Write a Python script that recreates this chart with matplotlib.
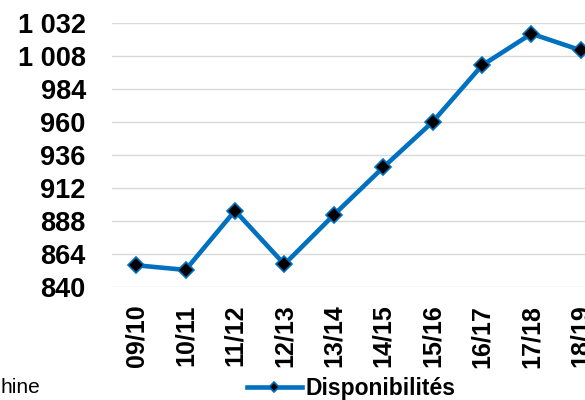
import matplotlib
matplotlib.use("Agg")
import matplotlib.pyplot as plt
from matplotlib.ticker import FuncFormatter, FixedLocator

plt.rcParams['font.family'] = ['Liberation Sans', 'DejaVu Sans']

seasons = ["09/10", "10/11", "11/12", "12/13", "13/14", "14/15", "15/16", "16/17", "17/18", "18/19"]
disponibilites = [856, 852.6, 895.6, 856.7, 892.5, 927, 960, 1001, 1024, 1012]
y_ticks = [840, 864, 888, 912, 936, 960, 984, 1008, 1032]
series_name = "Disponibilités"
footer_text = "hine"

blue = "#0070C0"

fig = plt.figure(figsize=(5.85, 4.0), dpi=100)
ax = fig.add_axes([111.5 / 585, (400 - 287.3) / 400, 494 / 585, (287.3 - 22.7) / 400])

x = list(range(len(seasons)))
ax.plot(x, disponibilites, color=blue, linewidth=3.3, marker="D", markersize=8.3,
        markerfacecolor="black", markeredgecolor=blue, markeredgewidth=1.2,
        label=series_name, zorder=3)

ax.set_xlim(-0.5, len(seasons) - 0.5)
ax.set_ylim(y_ticks[0], y_ticks[-1])
ax.yaxis.set_major_locator(FixedLocator(y_ticks))
ax.yaxis.set_major_formatter(FuncFormatter(lambda v, p: f"{int(round(v)):,}".replace(",", " ")))
ax.set_xticks(x)
ax.set_xticklabels(seasons, rotation=90, fontsize=18, fontweight="bold")
for lab in ax.get_yticklabels():
    lab.set_fontsize(19.5)
    lab.set_fontweight("bold")

ax.grid(axis="y", color="#D9D9D9", linewidth=1.0, zorder=0)
ax.set_axisbelow(True)
for s in ax.spines.values():
    s.set_visible(False)
ax.tick_params(axis="y", length=0, pad=18.5)
ax.tick_params(axis="x", length=0, pad=12.5)

fig.legend(loc="center", bbox_to_anchor=(351 / 585, 11 / 400), frameon=False,
           prop={"weight": "bold", "size": 16.5}, handlelength=2.4,
           handletextpad=0.15, markerscale=0.6, borderpad=0, borderaxespad=0)

fig.text(0.0, 7 / 400, footer_text, fontsize=15, ha="left", va="baseline")

fig.savefig("out.png", dpi=100)
